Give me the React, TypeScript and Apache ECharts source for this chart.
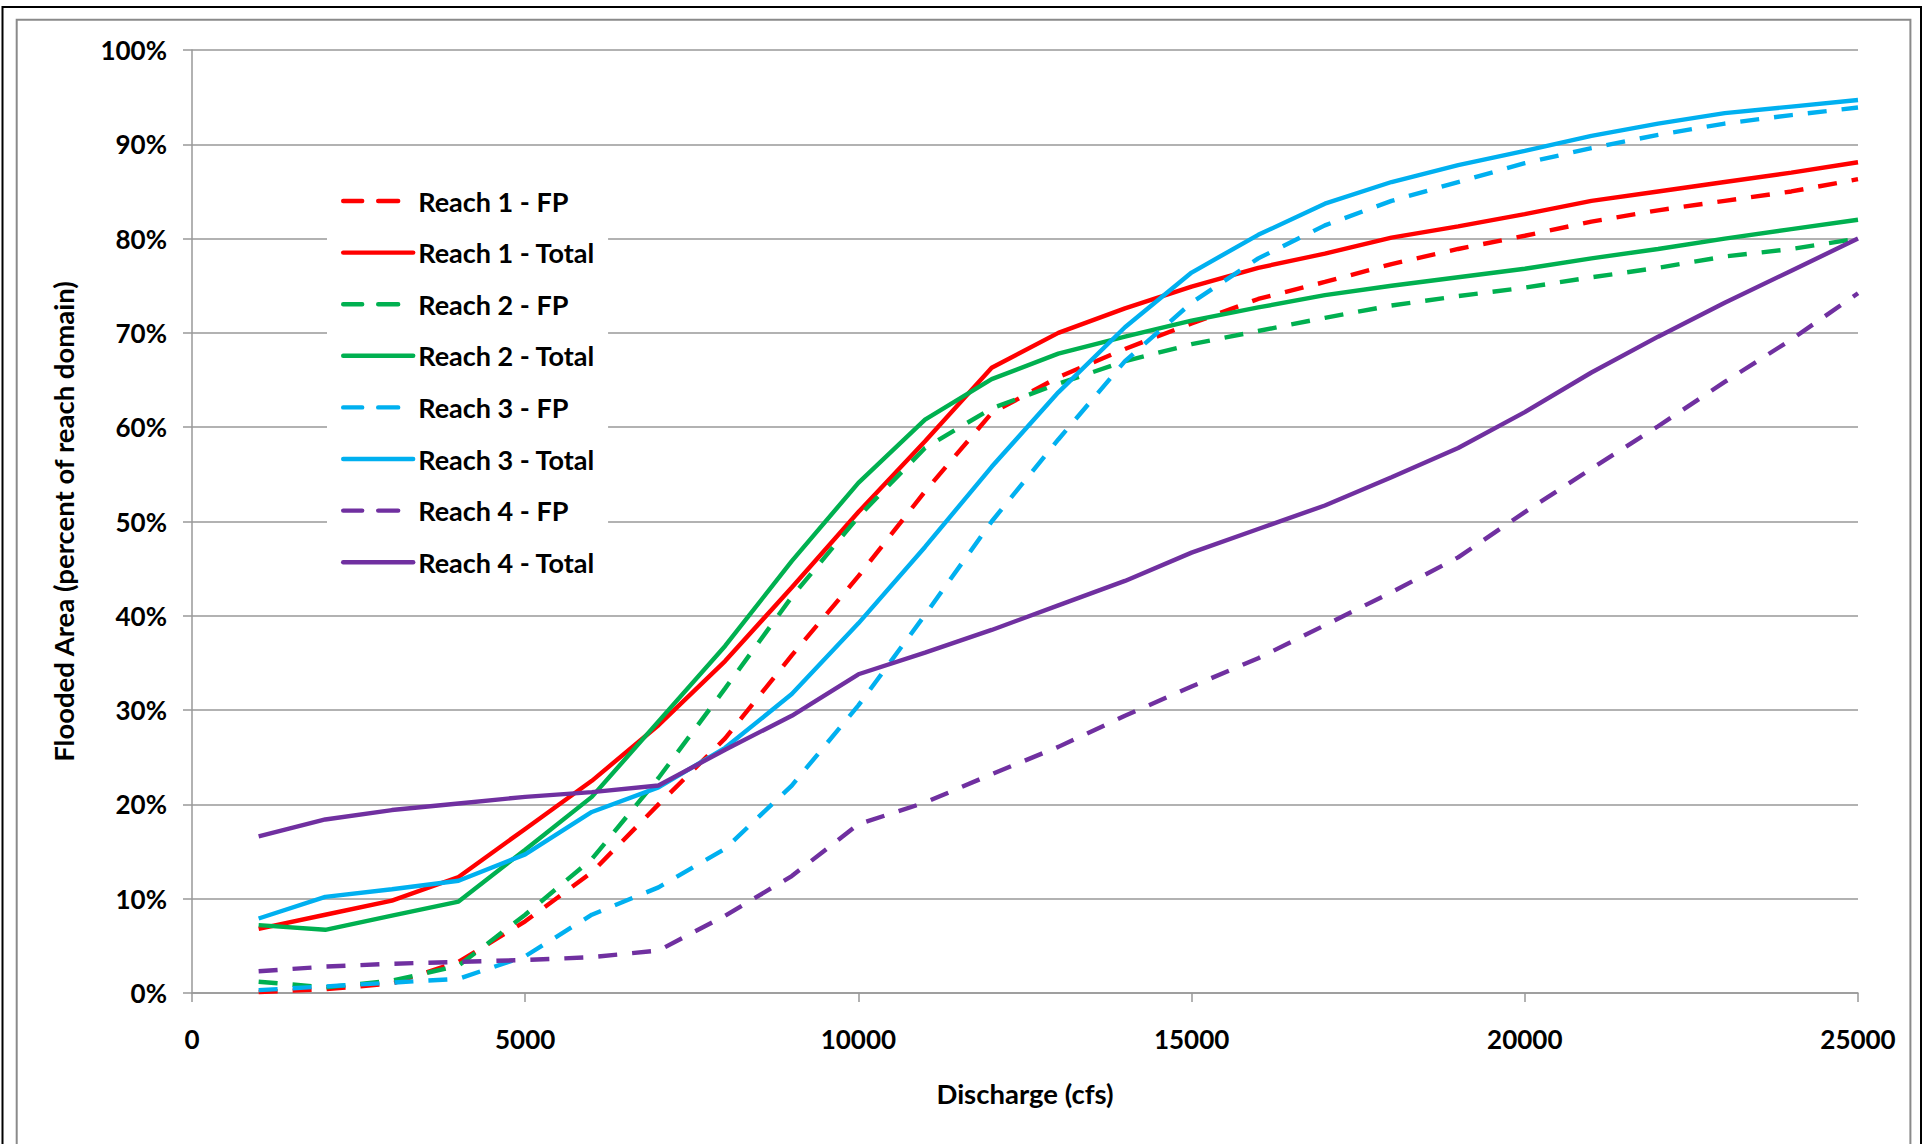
import React, { useEffect, useRef } from "react";
import * as echarts from "echarts";

const discharge = [1000, 2000, 3000, 4000, 5000, 6000, 7000, 8000, 9000, 10000, 11000, 12000, 13000, 14000, 15000, 16000, 17000, 18000, 19000, 20000, 21000, 22000, 23000, 24000, 25000];

const reach1FP = [0.1, 0.4, 1.0, 3.3, 7.6, 12.8, 20.0, 27.0, 35.8, 44.2, 53.2, 61.5, 65.3, 68.3, 71.0, 73.6, 75.4, 77.3, 78.9, 80.3, 81.8, 83.0, 84.0, 85.0, 86.3];
const reach1Total = [6.8, 8.3, 9.8, 12.3, 17.4, 22.5, 28.4, 35.2, 43.0, 51.0, 58.5, 66.3, 70.0, 72.6, 74.9, 76.9, 78.4, 80.1, 81.3, 82.6, 84.0, 85.0, 86.0, 87.0, 88.1];
const reach2FP = [1.2, 0.6, 1.3, 2.9, 8.3, 14.2, 22.8, 32.3, 42.0, 50.5, 57.8, 62.0, 64.6, 67.0, 68.8, 70.2, 71.6, 72.9, 73.9, 74.8, 75.9, 76.9, 78.1, 78.9, 80.0];
const reach2Total = [7.2, 6.7, 8.2, 9.7, 15.2, 20.8, 28.8, 36.8, 45.8, 54.1, 60.8, 65.1, 67.8, 69.6, 71.3, 72.7, 74.0, 75.0, 75.9, 76.8, 77.9, 78.9, 80.0, 81.0, 82.0];
const reach3FP = [0.3, 0.7, 1.1, 1.5, 3.9, 8.3, 11.2, 15.3, 22.0, 30.5, 40.1, 50.0, 58.7, 67.0, 73.2, 77.9, 81.4, 84.0, 86.0, 88.0, 89.6, 91.0, 92.2, 93.1, 93.9];
const reach3Total = [7.9, 10.2, 11.0, 11.9, 14.7, 19.2, 21.8, 26.0, 31.7, 39.2, 47.3, 55.8, 63.7, 70.6, 76.4, 80.4, 83.7, 86.0, 87.8, 89.3, 90.9, 92.2, 93.3, 94.0, 94.7];
const reach4FP = [2.3, 2.8, 3.1, 3.3, 3.5, 3.8, 4.5, 8.2, 12.4, 17.9, 20.2, 23.2, 26.1, 29.4, 32.5, 35.5, 39.0, 42.5, 46.2, 51.0, 55.6, 60.1, 64.8, 69.3, 74.2];
const reach4Total = [16.6, 18.4, 19.4, 20.1, 20.8, 21.3, 22.0, 25.8, 29.4, 33.8, 36.1, 38.5, 41.1, 43.7, 46.7, 49.2, 51.7, 54.7, 57.8, 61.6, 65.8, 69.6, 73.2, 76.6, 80.0];

const seriesNames = ["Reach 1 - FP", "Reach 1 - Total", "Reach 2 - FP", "Reach 2 - Total", "Reach 3 - FP", "Reach 3 - Total", "Reach 4 - FP", "Reach 4 - Total"];
const seriesValues = [reach1FP, reach1Total, reach2FP, reach2Total, reach3FP, reach3Total, reach4FP, reach4Total];
const seriesColors = ["#FF0000", "#FF0000", "#00B050", "#00B050", "#00B0F0", "#00B0F0", "#7030A0", "#7030A0"];
const seriesDashed = [true, false, true, false, true, false, true, false];

const xAxisTitle = "Discharge (cfs)";
const yAxisTitle = "Flooded Area (percent of reach domain)";

const FONT = "Lato, 'Open Sans', sans-serif";
const GRID = "#999999";

export default function App() {
  const ref = useRef<HTMLDivElement>(null);
  useEffect(() => {
    if (!ref.current) return;
    const chart = echarts.init(ref.current, undefined, { renderer: "svg" });
    const series = seriesNames.map((name, i) => ({
      name,
      type: "line",
      symbol: "none",
      showSymbol: false,
      data: discharge.map((x, j) => [x, seriesValues[i][j]]),
      lineStyle: {
        color: seriesColors[i],
        width: 4.4,
        type: seriesDashed[i] ? [19, 15] : "solid",
        cap: "butt",
      },
      itemStyle: { color: seriesColors[i] },
      z: 2 + i,
    }));
    const legendData = seriesNames.map((name, i) => ({
      name,
      lineStyle: {
        color: seriesColors[i],
        width: 4.4,
        type: seriesDashed[i] ? [19, 16, 20, 200] : "solid",
        cap: "round",
      },
    }));
    chart.setOption({
      animation: false,
      backgroundColor: "#ffffff",
      textStyle: { fontFamily: FONT, fontWeight: "bold", color: "#000" },
      graphic: [
        {
          type: "rect",
          shape: { x: 2.5, y: 7, width: 1918.5, height: 1160 },
          style: { fill: "none", stroke: "#000", lineWidth: 2 },
          silent: true,
        },
        {
          type: "rect",
          shape: { x: 16.7, y: 19.7, width: 1893.7, height: 1160 },
          style: { fill: "none", stroke: "#8a8a8a", lineWidth: 2 },
          silent: true,
        },
      ],
      grid: { left: 192, top: 50, right: 71, bottom: 151, containLabel: false },
      legend: {
        orient: "vertical",
        left: 327,
        top: 171,
        padding: [15, 13, 15, 14],
        backgroundColor: "#ffffff",
        itemWidth: 70,
        itemHeight: 30,
        itemGap: 21.6,
        itemStyle: { opacity: 0 },
        data: legendData,
        textStyle: { fontFamily: FONT, fontWeight: "bold", fontSize: 27, color: "#000", lineHeight: 30 },
      },
      xAxis: {
        type: "value",
        min: 0,
        max: 25000,
        interval: 5000,
        name: xAxisTitle,
        nameLocation: "middle",
        nameGap: 86,
        nameTextStyle: { fontFamily: FONT, fontWeight: "bold", fontSize: 27.5, color: "#000" },
        axisLine: { show: true, lineStyle: { color: GRID, width: 1.5 } },
        axisTick: { show: true, inside: false, length: 9, lineStyle: { color: GRID, width: 1.5 } },
        axisLabel: {
          margin: 33,
          formatter: (v: number) => String(v),
          fontFamily: FONT,
          fontWeight: "bold",
          fontSize: 26,
          color: "#000",
        },
        splitLine: { show: false },
      },
      yAxis: {
        type: "value",
        min: 0,
        max: 100,
        interval: 10,
        name: yAxisTitle,
        nameLocation: "middle",
        nameGap: 115,
        nameRotate: 90,
        nameTextStyle: { fontFamily: FONT, fontWeight: "bold", fontSize: 27.5, color: "#000" },
        axisLine: { show: true, lineStyle: { color: GRID, width: 1.5 } },
        axisTick: { show: true, inside: false, length: 9, lineStyle: { color: GRID, width: 1.5 } },
        axisLabel: { margin: 25, formatter: "{value}%", fontFamily: FONT, fontWeight: "bold", fontSize: 26, color: "#000" },
        splitLine: { show: true, lineStyle: { color: GRID, width: 1.5 } },
      },
      series,
    });
    return () => chart.dispose();
  }, []);
  return <div ref={ref} style={{ position: "absolute", left: 0, top: 0, width: 1929, height: 1144 }} />;
}
